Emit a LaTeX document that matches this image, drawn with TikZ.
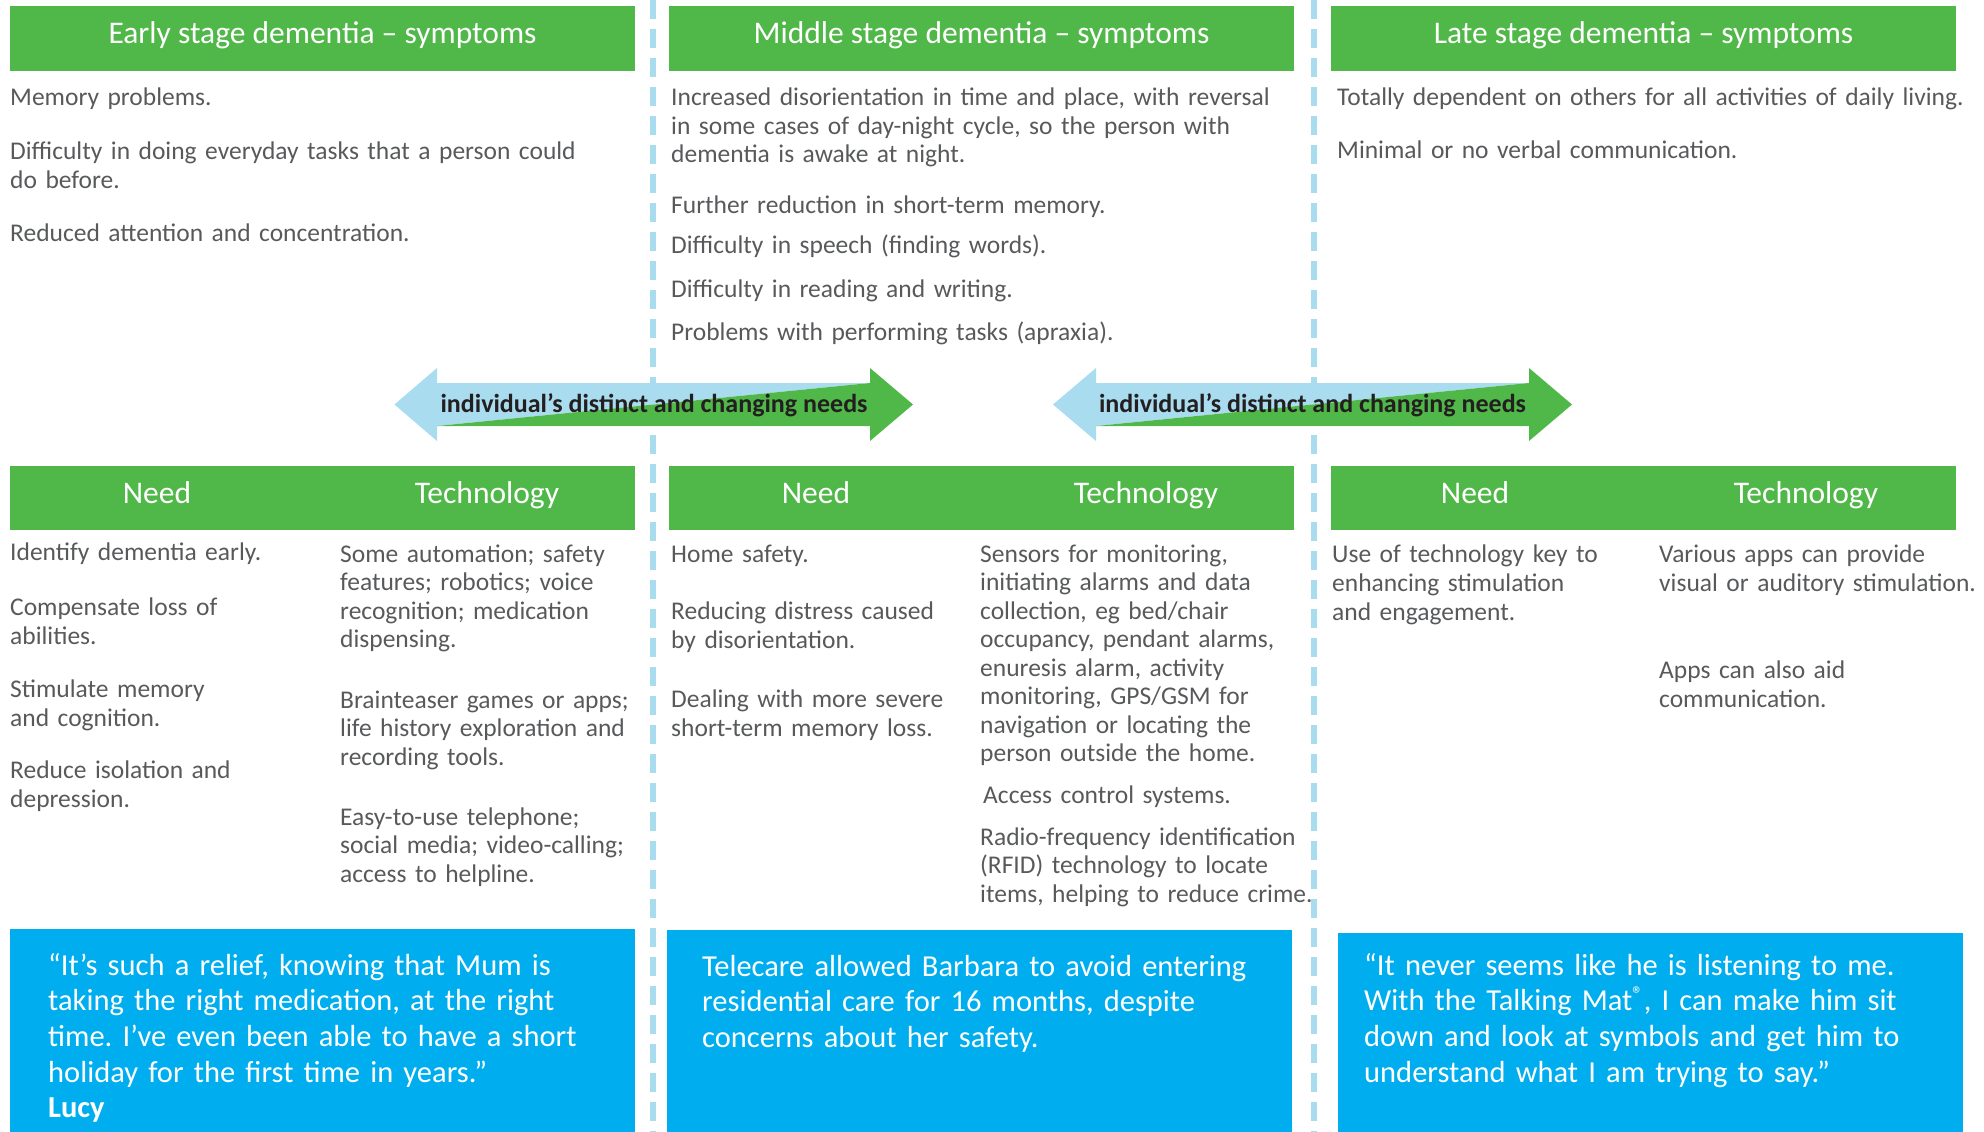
\documentclass[tikz,border=0pt]{standalone}
\usepackage{fontspec}
\setmainfont{Carlito}
\usetikzlibrary{positioning}
\frenchspacing
\definecolor{stagegreen}{HTML}{50B848}
\definecolor{quoteblue}{HTML}{00AEEF}
\definecolor{paleblue}{HTML}{A8DCEE}
\definecolor{bodygray}{HTML}{58595B}
\definecolor{arrowtext}{HTML}{231F20}
\tikzset{>=latex,
  hdrbox/.style={fill=stagegreen, draw=none, anchor=north west, minimum width=625pt, inner sep=0pt},
  hdrtext/.style={text=white, anchor=base, inner sep=0pt, font=\fontsize{31.5}{36}\selectfont},
  bodytext/.style={anchor=base west, inner sep=0pt, text=bodygray, align=left, text width=660pt,
    font=\fontsize{25.5}{29}\selectfont},
  techtext/.style={bodytext, font=\fontsize{25.5}{28.5}\selectfont},
  quotebox/.style={fill=quoteblue, draw=none, anchor=north west, minimum width=625pt, inner sep=0pt},
  quotetext/.style={anchor=base west, inner sep=0pt, text=white, align=left, text width=610pt,
    font=\fontsize{30.5}{35.7}\selectfont},
  needstext/.style={text=arrowtext, inner sep=0pt, font=\bfseries\fontsize{26}{30}\selectfont},
  divider/.style={draw=paleblue, line width=6pt, dash pattern=on 19pt off 10pt}
}

\begin{document}
\begin{tikzpicture}[x=1pt, y=-1pt]
  \useasboundingbox (0,0) rectangle (1984,1132);

  % stage dividers
  \draw[divider] (653,0) -- (653,1132);
  \draw[divider] (1314,0) -- (1314,1132);

  % stage headers
  \node[hdrbox, minimum height=65pt] (earlyhd) at (10,6) {};
  \node[hdrtext] (earlytitle) at (322.5,44) {Early stage dementia – symptoms};
  \node[hdrbox, minimum height=65pt] (middlehd) at (669,6) {};
  \node[hdrtext] (middletitle) at (981.5,44) {Middle stage dementia – symptoms};
  \node[hdrbox, minimum height=65pt] (latehd) at (1331,6) {};
  \node[hdrtext] (latetitle) at (1643.5,44) {Late stage dementia – symptoms};

  % symptoms
  \node[bodytext] (early1) at (10,105) {Memory problems.};
  \node[bodytext] (early2) at (10,159) {Difficulty in doing everyday tasks that a person could\\do before.};
  \node[bodytext] (early3) at (10,241) {Reduced attention and concentration.};

  \node[bodytext] (middle1) at (671,105) {Increased disorientation in time and place, with reversal\\in some cases of day-night cycle, so the person with\\dementia is awake at night.};
  \node[bodytext] (middle2) at (671,213) {Further reduction in short-term memory.};
  \node[bodytext] (middle3) at (671,253) {Difficulty in speech (finding words).};
  \node[bodytext] (middle4) at (671,297) {Difficulty in reading and writing.};
  \node[bodytext] (middle5) at (671,340) {Problems with performing tasks (apraxia).};

  \node[bodytext] (late1) at (1337,106) {Totally dependent on others for all activities of daily living.};
  \node[bodytext] (late2) at (1337,158) {Minimal or no verbal communication.};

  % needs arrows
  \fill[paleblue] (394.5,404.5) -- (437,368) -- (437,383) -- (870,383) -- (437,426) -- (437,441) -- cycle;
  \fill[stagegreen] (437,426) -- (870,383) -- (870,368) -- (913,404.5) -- (870,441) -- (870,426) -- cycle;
  \node[needstext] (needs1) at (654,405) {individual’s distinct and changing needs};
  \fill[paleblue] (1053,404.5) -- (1096,368) -- (1096,383) -- (1529,383) -- (1096,426) -- (1096,441) -- cycle;
  \fill[stagegreen] (1096,426) -- (1529,383) -- (1529,368) -- (1572,404.5) -- (1529,441) -- (1529,426) -- cycle;
  \node[needstext] (needs2) at (1312.5,405) {individual’s distinct and changing needs};

  % need / technology headers
  \node[hdrbox, minimum height=64pt] (earlynt) at (10,466) {};
  \node[hdrtext] (earlyneed) at (157,503) {Need};
  \node[hdrtext] (earlytech) at (487,503) {Technology};
  \node[hdrbox, minimum height=64pt] (middlent) at (669,466) {};
  \node[hdrtext] (middleneed) at (816,503) {Need};
  \node[hdrtext] (middletech) at (1146,503) {Technology};
  \node[hdrbox, minimum height=64pt] (latent) at (1331,466) {};
  \node[hdrtext] (lateneed) at (1475,503) {Need};
  \node[hdrtext] (latetech) at (1806,503) {Technology};

  % early needs and technology
  \node[bodytext] (eneed1) at (10,560) {Identify dementia early.};
  \node[bodytext] (eneed2) at (10,615) {Compensate loss of\\abilities.};
  \node[bodytext] (eneed3) at (10,697) {Stimulate memory\\and cognition.};
  \node[bodytext] (eneed4) at (10,778) {Reduce isolation and\\depression.};
  \node[techtext] (etech1) at (340,562) {Some automation; safety\\features; robotics; voice\\recognition; medication\\dispensing.};
  \node[techtext] (etech2) at (340,708) {Brainteaser games or apps;\\life history exploration and\\recording tools.};
  \node[techtext] (etech3) at (340,825) {Easy-to-use telephone;\\social media; video-calling;\\access to helpline.};

  % middle needs and technology
  \node[bodytext] (mneed1) at (671,562) {Home safety.};
  \node[bodytext] (mneed2) at (671,619) {Reducing distress caused\\by disorientation.};
  \node[bodytext] (mneed3) at (671,707) {Dealing with more severe\\short-term memory loss.};
  \node[techtext] (mtech1) at (980,562) {Sensors for monitoring,\\initiating alarms and data\\collection, eg bed/chair\\occupancy, pendant alarms,\\enuresis alarm, activity\\monitoring, GPS/GSM for\\navigation or locating the\\person outside the home.};
  \node[techtext] (mtech2) at (983,803) {Access control systems.};
  \node[techtext] (mtech3) at (980,845) {Radio-frequency identification\\(RFID) technology to locate\\items, helping to reduce crime.};

  % late needs and technology
  \node[bodytext] (lneed1) at (1332,562) {Use of technology key to\\enhancing stimulation\\and engagement.};
  \node[bodytext] (ltech1) at (1659,562) {Various apps can provide\\visual or auditory stimulation.};
  \node[bodytext] (ltech2) at (1659,678) {Apps can also aid\\communication.};

  % quotes
  \node[quotebox, minimum height=203pt] (quote1) at (10,929) {};
  \node[quotetext] (quote1text) at (48,975) {“It’s such a relief, knowing that Mum is\\taking the right medication, at the right\\time. I’ve even been able to have a short\\holiday for the first time in years.”\\\textbf{Lucy}};
  \node[quotebox, minimum height=202pt] (quote2) at (667,930) {};
  \node[quotetext] (quote2text) at (702,976) {Telecare allowed Barbara to avoid entering\\residential care for 16 months, despite\\concerns about her safety.};
  \node[quotebox, minimum height=199pt] (quote3) at (1338,933) {};
  \node[quotetext] (quote3text) at (1364,975) {“It never seems like he is listening to me.\\With the Talking Mat\textsuperscript{®}, I can make him sit\\down and look at symbols and get him to\\understand what I am trying to say.”};
\end{tikzpicture}
\end{document}
